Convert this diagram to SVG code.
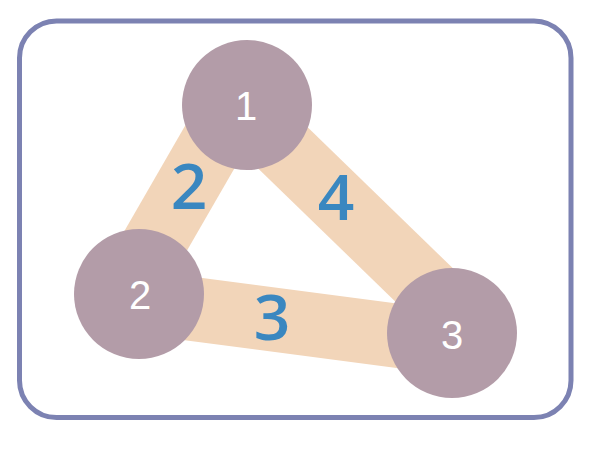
<svg xmlns="http://www.w3.org/2000/svg" width="602" height="452" viewBox="0 0 602 452">
<style>
.edge{stroke:#f2d5b9;stroke-width:64;fill:none}
.node{fill:#b39ca8}
.nl{fill:#ffffff;font-family:"Liberation Sans",Arial,sans-serif;font-size:40px;text-anchor:middle}
.el{fill:#3a87c0;font-family:"Open Sans","Liberation Sans",sans-serif;font-weight:600;font-size:64px;text-anchor:middle}
</style>
<rect x="19.5" y="21" width="551.5" height="396.5" rx="37" ry="37" fill="#ffffff" stroke="#7c82b2" stroke-width="5"/>
<g id="connectors">
<line class="edge" x1="234" y1="105" x2="125" y2="294"/>
<line class="edge" x1="247" y1="113" x2="452" y2="312"/>
<line class="edge" x1="139" y1="302" x2="452" y2="343"/>
</g>
<g id="edge-labels">
<text class="el" x="189" y="209">2</text>
<text class="el" x="336" y="220">4</text>
<text class="el" x="272" y="340">3</text>
</g>
<g id="node1"><circle class="node" cx="247" cy="105" r="65"/><text class="nl" x="246" y="120">1</text></g>
<g id="node2"><circle class="node" cx="139" cy="294" r="65"/><text class="nl" x="140" y="309">2</text></g>
<g id="node3"><circle class="node" cx="452" cy="333" r="65"/><text class="nl" x="452" y="349">3</text></g>
</svg>
